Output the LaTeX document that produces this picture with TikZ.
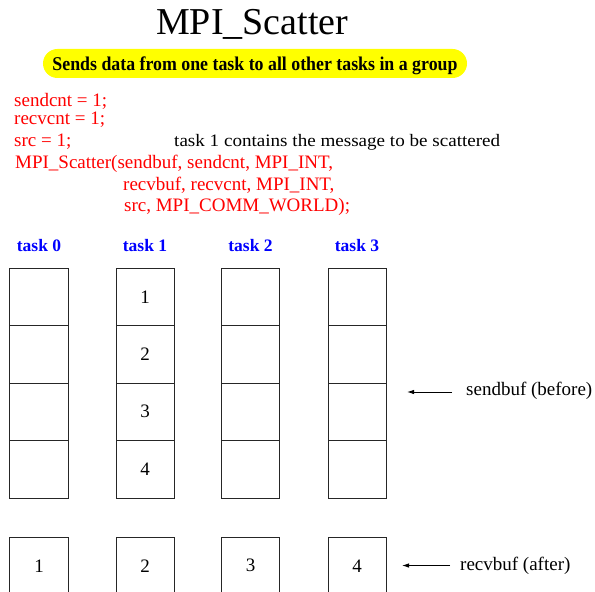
\documentclass[tikz,border=0pt]{standalone}
\usepackage{fontspec}
\setmainfont{Liberation Serif}
\usepackage{graphicx}
\usetikzlibrary{arrows.meta}
\definecolor{codered}{RGB}{255,0,0}
\definecolor{taskblue}{RGB}{0,0,255}
\definecolor{hilite}{RGB}{255,255,0}
% stretch or squeeze a piece of text to a given width, keeping its height
\newcommand\fitwidth[2]{\resizebox{#1}{\height}{#2}}

\begin{document}
\begin{tikzpicture}[x=1bp,y=-1bp,
  txt/.style={inner sep=0pt, anchor=base west},
  code/.style={txt, text=codered, font=\fontsize{19bp}{22bp}\selectfont},
  tasklbl/.style={inner sep=0pt, anchor=base, text=taskblue,
    font=\bfseries\fontsize{17.5bp}{20bp}\selectfont},
  cell/.style={draw=black!85, line width=1bp, minimum width=58bp,
    minimum height=57.5bp, inner sep=0pt, font=\fontsize{19bp}{22bp}\selectfont},
  ptr/.style={line width=0.9bp, -{Latex[length=7bp,width=4.5bp]}},
  buflbl/.style={txt, font=\fontsize{19bp}{22bp}\selectfont}
]
\useasboundingbox (0,0) rectangle (595,592);
\clip (0,0) rectangle (595,592);

% heading and purpose banner
\node[txt, font=\fontsize{38bp}{44bp}\selectfont] (title) at (156,35) {MPI\_Scatter};
\node[fill=hilite, rounded corners=14.5bp, minimum width=424bp, minimum height=29bp,
      inner sep=0pt, text height=17bp, text depth=2bp] (purpose) at (255,63.5)
  {\fitwidth{405bp}{\bfseries\fontsize{19.5bp}{22bp}\selectfont Sends data from one task to all other tasks in a group}};

% call parameters
\node[code] (c1) at (14,107) {sendcnt = 1;};
\node[code] (c2) at (14,125) {recvcnt = 1;};
\node[code] (c3) at (14,147) {src = 1;};
\node[txt, font=\fontsize{17.5bp}{20bp}\selectfont] (remark) at (174,147)
  {\fitwidth{326bp}{task 1 contains the message to be scattered}};
\node[code] (c4) at (15,169) {MPI\_Scatter(sendbuf, sendcnt, MPI\_INT,};
\node[code] (c5) at (123,190) {recvbuf, recvcnt, MPI\_INT,};
\node[code] (c6) at (124,211) {src, MPI\_COMM\_WORLD);};

% buffers of the four tasks
\foreach \c/\x in {0/39,1/145,2/250.5,3/357} {
  \node[tasklbl] (task\c) at (\x,251) {task \c};
  \foreach \r/\y in {1/296.75,2/354.25,3/411.75,4/469.25}
    \node[cell] (send\c-\r) at (\x,\y) {\ifnum\c=1 \r\fi};
  \node[cell] (recv\c) at (\x,565.75) {\the\numexpr\c+1\relax};
}

% buffer legends
\coordinate (sendtail) at (452,392);
\coordinate (sendtip) at (407,392);
\draw[ptr] (sendtail) -- (sendtip);
\node[buflbl] (sendlbl) at (466,395) {sendbuf (before)};

\coordinate (recvtail) at (450,565.5);
\coordinate (recvtip) at (402,565.5);
\draw[ptr] (recvtail) -- (recvtip);
\node[buflbl] (recvlbl) at (460,570) {recvbuf (after)};
\end{tikzpicture}
\end{document}
